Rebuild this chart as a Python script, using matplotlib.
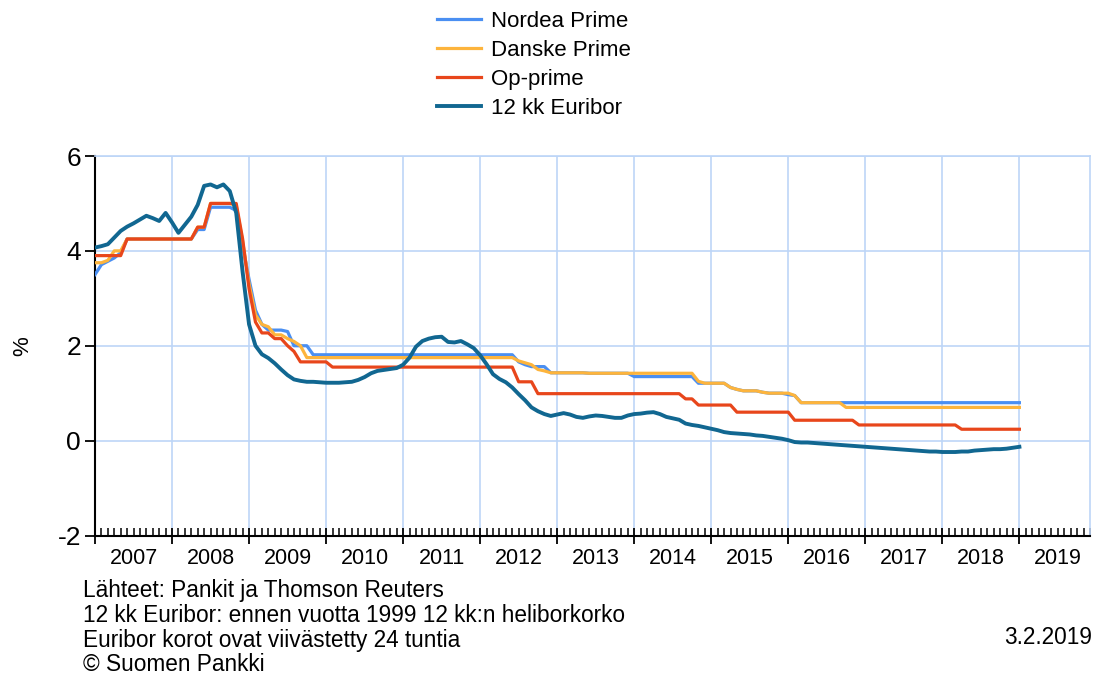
import numpy as np
import matplotlib
matplotlib.use('Agg')
from matplotlib import pyplot as plt
from matplotlib.ticker import MultipleLocator, FuncFormatter

plt.rcParams['font.family'] = ['Liberation Sans', 'DejaVu Sans']
plt.rcParams['axes.unicode_minus'] = False

# monthly values, 2007-01 ... 2019-01 (%)
start_year = 2007

nordea = [
    3.50, 3.71, 3.78, 3.85, 3.96, 4.25, 4.25, 4.25, 4.25, 4.25, 4.25, 4.25,
    4.25, 4.25, 4.25, 4.25, 4.45, 4.45, 4.92, 4.92, 4.92, 4.92, 4.85, 4.10,
    3.40, 2.75, 2.45, 2.33, 2.33, 2.33, 2.30, 2.00, 2.00, 2.00, 1.81, 1.81,
    1.81, 1.81, 1.81, 1.81, 1.81, 1.81, 1.81, 1.81, 1.81, 1.81, 1.81, 1.81,
    1.81, 1.81, 1.81, 1.81, 1.81, 1.81, 1.81, 1.81, 1.81, 1.81, 1.81, 1.81,
    1.81, 1.81, 1.81, 1.81, 1.81, 1.81, 1.66, 1.60, 1.56, 1.56, 1.56, 1.43,
    1.43, 1.43, 1.43, 1.43, 1.43, 1.42, 1.42, 1.42, 1.42, 1.42, 1.42, 1.42,
    1.35, 1.35, 1.35, 1.35, 1.35, 1.35, 1.35, 1.35, 1.35, 1.35, 1.21, 1.21,
    1.21, 1.21, 1.21, 1.12, 1.08, 1.05, 1.05, 1.05, 1.02, 1.00, 1.00, 1.00,
    0.97, 0.95, 0.80, 0.80, 0.80, 0.80, 0.80, 0.80, 0.80, 0.80, 0.80, 0.80,
    0.80, 0.80, 0.80, 0.80, 0.80, 0.80, 0.80, 0.80, 0.80, 0.80, 0.80, 0.80,
    0.80, 0.80, 0.80, 0.80, 0.80, 0.80, 0.80, 0.80, 0.80, 0.80, 0.80, 0.80,
    0.80,
]

danske = [
    3.75, 3.75, 3.80, 4.00, 4.00, 4.25, 4.25, 4.25, 4.25, 4.25, 4.25, 4.25,
    4.25, 4.25, 4.25, 4.25, 4.50, 4.50, 5.00, 5.00, 5.00, 5.00, 4.95, 4.20,
    3.30, 2.65, 2.45, 2.40, 2.23, 2.23, 2.15, 2.09, 2.00, 1.75, 1.75, 1.75,
    1.75, 1.75, 1.75, 1.75, 1.75, 1.75, 1.75, 1.75, 1.75, 1.75, 1.75, 1.75,
    1.75, 1.75, 1.75, 1.75, 1.75, 1.75, 1.75, 1.75, 1.75, 1.75, 1.75, 1.75,
    1.75, 1.75, 1.75, 1.75, 1.75, 1.75, 1.68, 1.64, 1.60, 1.50, 1.47, 1.43,
    1.43, 1.43, 1.43, 1.43, 1.43, 1.42, 1.42, 1.42, 1.42, 1.42, 1.42, 1.42,
    1.42, 1.42, 1.42, 1.42, 1.42, 1.42, 1.42, 1.42, 1.42, 1.42, 1.25, 1.21,
    1.21, 1.21, 1.21, 1.12, 1.08, 1.05, 1.05, 1.05, 1.02, 1.00, 1.00, 1.00,
    1.00, 0.95, 0.80, 0.80, 0.80, 0.80, 0.80, 0.80, 0.80, 0.70, 0.70, 0.70,
    0.70, 0.70, 0.70, 0.70, 0.70, 0.70, 0.70, 0.70, 0.70, 0.70, 0.70, 0.70,
    0.70, 0.70, 0.70, 0.70, 0.70, 0.70, 0.70, 0.70, 0.70, 0.70, 0.70, 0.70,
    0.70,
]

op_prime = [
    3.90, 3.90, 3.90, 3.90, 3.90, 4.25, 4.25, 4.25, 4.25, 4.25, 4.25, 4.25,
    4.25, 4.25, 4.25, 4.25, 4.50, 4.50, 5.00, 5.00, 5.00, 5.00, 5.00, 4.25,
    3.20, 2.50, 2.27, 2.27, 2.15, 2.15, 2.00, 1.88, 1.66, 1.66, 1.66, 1.66,
    1.66, 1.55, 1.55, 1.55, 1.55, 1.55, 1.55, 1.55, 1.55, 1.55, 1.55, 1.55,
    1.55, 1.55, 1.55, 1.55, 1.55, 1.55, 1.55, 1.55, 1.55, 1.55, 1.55, 1.55,
    1.55, 1.55, 1.55, 1.55, 1.55, 1.55, 1.24, 1.24, 1.24, 0.99, 0.99, 0.99,
    0.99, 0.99, 0.99, 0.99, 0.99, 0.99, 0.99, 0.99, 0.99, 0.99, 0.99, 0.99,
    0.99, 0.99, 0.99, 0.99, 0.99, 0.99, 0.99, 0.99, 0.88, 0.88, 0.75, 0.75,
    0.75, 0.75, 0.75, 0.75, 0.60, 0.60, 0.60, 0.60, 0.60, 0.60, 0.60, 0.60,
    0.60, 0.43, 0.43, 0.43, 0.43, 0.43, 0.43, 0.43, 0.43, 0.43, 0.43, 0.33,
    0.33, 0.33, 0.33, 0.33, 0.33, 0.33, 0.33, 0.33, 0.33, 0.33, 0.33, 0.33,
    0.33, 0.33, 0.33, 0.24, 0.24, 0.24, 0.24, 0.24, 0.24, 0.24, 0.24, 0.24,
    0.24,
]

euribor = [
    4.07, 4.10, 4.14, 4.28, 4.42, 4.51, 4.58, 4.66, 4.74, 4.69, 4.63, 4.80,
    4.60, 4.38, 4.55, 4.72, 4.97, 5.37, 5.40, 5.34, 5.40, 5.26, 4.80, 3.55,
    2.45, 2.00, 1.82, 1.74, 1.63, 1.50, 1.38, 1.29, 1.26, 1.24, 1.24, 1.23,
    1.22, 1.22, 1.22, 1.23, 1.24, 1.28, 1.34, 1.42, 1.47, 1.49, 1.51, 1.53,
    1.60, 1.75, 1.98, 2.10, 2.15, 2.18, 2.19, 2.08, 2.07, 2.10, 2.03, 1.95,
    1.80, 1.61, 1.40, 1.30, 1.23, 1.12, 0.98, 0.85, 0.70, 0.62, 0.56, 0.52,
    0.55, 0.58, 0.55, 0.50, 0.48, 0.51, 0.53, 0.52, 0.50, 0.48, 0.48, 0.53,
    0.56, 0.57, 0.59, 0.60, 0.56, 0.50, 0.47, 0.44, 0.36, 0.33, 0.31, 0.28,
    0.25, 0.22, 0.18, 0.16, 0.15, 0.14, 0.13, 0.11, 0.10, 0.08, 0.06, 0.04,
    0.01, -0.03, -0.04, -0.04, -0.05, -0.06, -0.07, -0.08, -0.09, -0.10, -0.11, -0.12,
    -0.13, -0.14, -0.15, -0.16, -0.17, -0.18, -0.19, -0.20, -0.21, -0.22, -0.23, -0.23,
    -0.24, -0.24, -0.24, -0.23, -0.23, -0.21, -0.20, -0.19, -0.18, -0.18, -0.17, -0.15,
    -0.13,
]

series_names = ['Nordea Prime', 'Danske Prime', 'Op-prime', '12 kk Euribor']
series_colors = ['#4a8ff2', '#fdb43c', '#e8461b', '#116791']
series_widths = [2.3, 2.3, 2.3, 2.8]

footer_lines = [
    'Lähteet: Pankit ja Thomson Reuters',
    '12 kk Euribor: ennen vuotta 1999 12 kk:n heliborkorko',
    'Euribor korot ovat viivästetty 24 tuntia',
    '© Suomen Pankki',
]
date_text = '3.2.2019'

grid_color = '#bdd5f7'

t = start_year + np.arange(len(euribor)) / 12

fig = plt.figure(figsize=(10.96, 6.8), dpi=100)
ax = fig.add_axes([95 / 1096, 1 - 535.5 / 680, 995 / 1096, 379.5 / 680])

for vals, name, col, lw, z in zip([nordea, danske, op_prime, euribor], series_names,
                                  series_colors, series_widths, [3, 4, 5, 6]):
    ax.plot(t, vals, color=col, lw=lw, label=name, zorder=z)

ax.set_xlim(2007, 2019 + 11 / 12)
ax.set_ylim(-2, 6)

ax.xaxis.set_major_locator(MultipleLocator(1))
ax.xaxis.set_minor_locator(MultipleLocator(1 / 12))
ax.yaxis.set_major_locator(MultipleLocator(2))
ax.grid(which='major', color=grid_color, lw=1.2, zorder=0)

ax.tick_params(axis='x', which='major', direction='inout', length=11, width=1.3,
               labelbottom=False)
ax.tick_params(axis='x', which='minor', direction='in', length=5.5, width=1.1)
ax.tick_params(axis='y', which='major', direction='out', length=7, width=1.3,
               labelsize=19, pad=3)

for s in ['left', 'bottom']:
    ax.spines[s].set_color('black')
    ax.spines[s].set_linewidth(1.5)
for s in ['top', 'right']:
    ax.spines[s].set_color(grid_color)
    ax.spines[s].set_linewidth(1.2)

# year labels centred between year boundaries
years = list(range(2007, 2020))
sec = ax.secondary_xaxis('bottom')
sec.set_xticks([y + 0.5 for y in years])
sec.xaxis.set_major_formatter(FuncFormatter(lambda v, p: f'{int(v)}'))
sec.tick_params(length=0, labelsize=15.5, pad=9)
sec.spines['bottom'].set_visible(False)

ax.set_ylabel('%', fontsize=16)
ax.yaxis.set_label_coords(-0.062, 0.5)

fig.legend(loc='upper left', bbox_to_anchor=(437 / 1096, 1 - 11 / 680),
           frameon=False, fontsize=16, handlelength=2.0, handletextpad=0.45,
           labelspacing=0.36, borderpad=0, borderaxespad=0)

for i, line in enumerate(footer_lines):
    fig.text(83 / 1096, 1 - (591 + i * 24.5) / 680, line, fontsize=16.3,
             va='center', ha='left')
fig.text(1092 / 1096, 1 - 637 / 680, date_text, fontsize=16.3, va='center', ha='right')

fig.savefig('out.png', dpi=100)
